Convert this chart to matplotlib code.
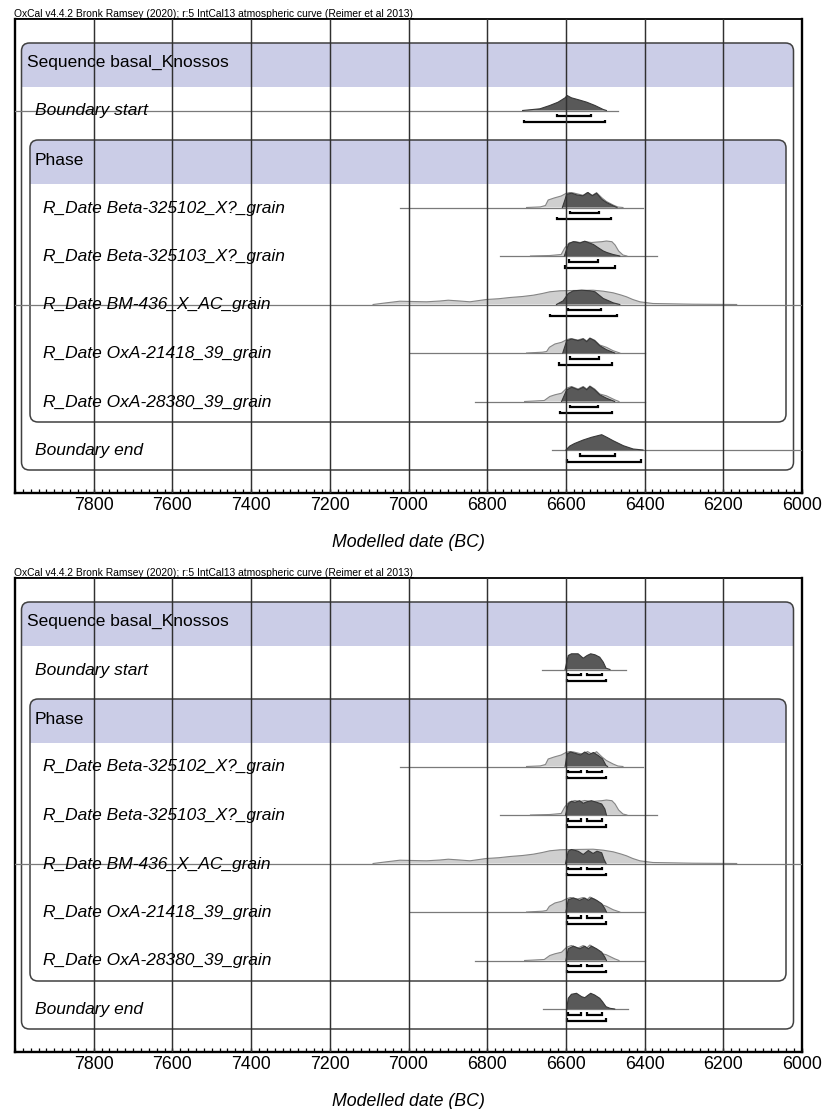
import matplotlib
matplotlib.use('Agg')
import matplotlib.pyplot as plt
import matplotlib.transforms as mtransforms
from matplotlib.patches import FancyBboxPatch, Rectangle
from matplotlib.lines import Line2D

# ---------------- data (years BC, relative heights) ----------------
title_text = "OxCal v4.4.2 Bronk Ramsey (2020); r:5 IntCal13 atmospheric curve (Reimer et al 2013)"
sequence_name = "Sequence basal_Knossos"
phase_name = "Phase"
row_labels = ["Boundary start",
              "R_Date Beta-325102_X?_grain",
              "R_Date Beta-325103_X?_grain",
              "R_Date BM-436_X_AC_grain",
              "R_Date OxA-21418_39_grain",
              "R_Date OxA-28380_39_grain",
              "Boundary end"]
xlabel_text = "Modelled date (BC)"
major_ticks = [7800, 7600, 7400, 7200, 7000, 6800, 6600, 6400, 6200, 6000]
tick_labels = ["7800", "7600", "7400", "7200", "7000", "6800", "6600", "6400", "6200", "6000"]

# unmodelled likelihoods (same in both panels)
lik_beta102 = [(6700, 0), (6665, 0.6), (6652, 2), (6645, 7.5), (6630, 9.5), (6612, 11.5), (6600, 14),
               (6590, 15), (6580, 14.5), (6570, 13.5), (6556, 12.2), (6545, 15), (6533, 12.2),
               (6522, 14.8), (6508, 9.5), (6497, 6), (6480, 2.5), (6468, 0.5), (6455, 0)]
lik_beta103 = [(6690, 0), (6640, 0.5), (6612, 1.5), (6603, 8), (6592, 13), (6577, 14.5), (6564, 13.5),
               (6552, 14.5), (6535, 13.5), (6520, 14), (6509, 14.3), (6497, 15), (6483, 14.3),
               (6475, 11), (6466, 5), (6455, 1), (6445, 0)]
lik_bm436 = [(7090, 0), (7060, 1.5), (7022, 3.3), (6990, 3), (6954, 2.7), (6920, 3.5), (6899, 4.3),
             (6870, 3.5), (6844, 2.7), (6802, 5), (6770, 5.8), (6742, 7), (6710, 8), (6683, 9.3),
             (6660, 11), (6641, 12.7), (6615, 13.7), (6580, 14), (6531, 14.3), (6505, 13.3),
             (6480, 11.7), (6460, 9.5), (6446, 7.7), (6430, 5), (6412, 2.7), (6379, 1),
             (6277, 0.3), (6166, 0)]
lik_oxa21418 = [(6700, 0), (6660, 0.8), (6649, 1.5), (6642, 5.7), (6628, 9), (6611, 10.7), (6598, 13.3),
                (6588, 14.5), (6570, 13), (6556, 14.5), (6547, 12), (6539, 15), (6527, 12.8),
                (6514, 8), (6497, 5.7), (6480, 2.3), (6463, 0)]
lik_oxa28380 = [(6705, 0), (6655, 1), (6641, 5), (6628, 6.7), (6611, 8.3), (6598, 13.3), (6586, 15),
                (6569, 12.5), (6556, 15), (6547, 12.5), (6539, 15.5), (6527, 12.5), (6514, 7.5),
                (6497, 5.7), (6476, 1.7), (6465, 0)]

# extents of the thin lines under each item
line_top = [(8000, 6468), (7022, 6404), (6768, 6369), (8000, 6000), (6997, 6400), (6831, 6400), (6636, 6000)]
line_bottom = [(6662, 6446), (7022, 6404), (6768, 6369), (8000, 6000), (6997, 6400), (6831, 6400), (6658, 6442)]

# panel 1 posteriors
post1_start = [(6710, 0), (6666, 1.7), (6641, 5), (6620, 8.3), (6602, 12.7), (6597, 15), (6586, 12.7),
               (6564, 10.3), (6547, 8.3), (6526, 5), (6505, 1), (6497, 0)]
post1_beta102 = [(6609, 0), (6603, 7), (6598, 13.3), (6585, 14.3), (6572, 12.5), (6557, 11.7),
                 (6544, 15), (6533, 11.7), (6522, 14.3), (6509, 8.3), (6497, 5), (6480, 1.7), (6470, 0)]
post1_beta103 = [(6604, 0), (6597, 8), (6592, 12.5), (6581, 14.3), (6570, 13.5), (6564, 13),
                 (6552, 14.8), (6540, 13), (6530, 11.5), (6518, 8.3), (6505, 5), (6496, 3.5),
                 (6480, 1.5), (6463, 0)]
post1_bm436 = [(6624, 0), (6607, 3.7), (6594, 11), (6581, 13.7), (6560, 14.3), (6539, 13.7),
               (6526, 12.7), (6505, 6), (6490, 3.5), (6480, 1.7), (6463, 0)]
post1_oxa21418 = [(6608, 0), (6598, 12.3), (6585, 14), (6569, 12.3), (6556, 14), (6547, 11.3),
                  (6539, 14.7), (6527, 12.3), (6514, 7.3), (6497, 3.3), (6476, 0)]
post1_oxa28380 = [(6611, 0), (6598, 11.7), (6585, 14.3), (6569, 11.7), (6556, 14.3), (6547, 11.7),
                  (6539, 15), (6527, 11.7), (6514, 6.7), (6497, 3.3), (6476, 0)]
post1_end = [(6600, 0), (6590, 4), (6578, 6.5), (6556, 10), (6535, 12.7), (6509, 15.3), (6495, 12.5),
             (6480, 9.3), (6454, 4.3), (6429, 1), (6404, 0)]

r68_top = [[(6623, 6536)], [(6590, 6515)], [(6592, 6519)], [(6594, 6512)], [(6590, 6515)],
           [(6590, 6518)], [(6564, 6475)]]
r95_top = [[(6707, 6501)], [(6622, 6486)], [(6603, 6475)], [(6641, 6470)], [(6618, 6484)],
           [(6615, 6484)], [(6597, 6408)]]

# panel 2 posteriors
post2_start = [(6602, 0), (6594, 14), (6586, 15.7), (6569, 15.7), (6556, 11.3), (6546, 14), (6537, 15.7),
               (6526, 14.7), (6514, 12.3), (6505, 7.3), (6498, 1.3), (6488, 0)]
post2_beta102 = [(6602, 0), (6597, 12.5), (6588, 14.5), (6575, 13), (6563, 11.5), (6552, 14.5),
                 (6541, 12), (6530, 14), (6518, 11), (6507, 7.7), (6498, 1), (6494, 0)]
post2_beta103 = [(6601, 0), (6594, 11), (6586, 13.7), (6577, 12.7), (6565, 14.3), (6556, 11.7),
                 (6546, 13.3), (6535, 14.3), (6522, 12.7), (6509, 11), (6501, 6), (6497, 0)]
post2_bm436 = [(6601, 0), (6594, 12.3), (6586, 14), (6569, 12.3), (6556, 9), (6543, 13), (6531, 10),
               (6521, 12.3), (6509, 10.7), (6503, 4), (6498, 0)]
post2_oxa21418 = [(6600, 0), (6594, 12.3), (6581, 14), (6565, 11.7), (6552, 14), (6543, 11.7),
                  (6535, 14), (6522, 11.7), (6509, 8.3), (6501, 3.3), (6497, 0)]
post2_oxa28380 = [(6600, 0), (6594, 11.7), (6581, 14.3), (6565, 11.7), (6552, 14.3), (6543, 11.7),
                  (6535, 14.3), (6522, 11.7), (6509, 8.3), (6501, 3.3), (6497, 0)]
post2_end = [(6598, 0), (6594, 10.7), (6586, 14.7), (6573, 15.7), (6560, 12.3), (6552, 11.3),
             (6543, 14), (6537, 15.7), (6527, 14), (6514, 10.7), (6507, 7.3), (6498, 2.3),
             (6488, 0.7), (6476, 0)]

r68_bottom = [[(6594, 6562), (6547, 6509)]] * 7
r95_bottom = [[(6598, 6498)]] * 7

# ---------------- build panel tables ----------------
liks = [None, lik_beta102, lik_beta103, lik_bm436, lik_oxa21418, lik_oxa28380, None]
panels = [
    dict(offset=0, lines=line_top, posts=[post1_start, post1_beta102, post1_beta103, post1_bm436,
                                          post1_oxa21418, post1_oxa28380, post1_end],
         r68=r68_top, r95=r95_top),
    dict(offset=559, lines=line_bottom, posts=[post2_start, post2_beta102, post2_beta103, post2_bm436,
                                               post2_oxa21418, post2_oxa28380, post2_end],
         r68=r68_bottom, r95=r95_bottom),
]
row_index = [1, 3, 4, 5, 6, 7, 8]
label_x = [35, 43, 43, 43, 43, 43, 35]

# ---------------- figure ----------------
W, H = 826, 1109
fig = plt.figure(figsize=(W / 100, H / 100), dpi=100)
pix = mtransforms.Affine2D().scale(1, -1).translate(0, H)

FONT = 'Liberation Sans'
BAND = '#cbcde7'
EDGE = '#404040'
DARK = '#595959'
DARK_E = '#383838'
LIGHT = '#cfcfcf'
LIGHT_E = '#858585'
LABEL_FS = 12.5

AX_LEFT, AX_RIGHT, AX_TOP, AX_H = 15, 802, 19, 474
ROW0, ROWSTEP = 43, 48.5


def rounded_box(ax, x0, y0, x1, y1, band_h):
    box = FancyBboxPatch((x0, y0), x1 - x0, y1 - y0, boxstyle="round,pad=0,rounding_size=8",
                         transform=pix, facecolor='none', edgecolor=EDGE, lw=1.1, zorder=2,
                         clip_on=False)
    clipbox = FancyBboxPatch((x0, y0), x1 - x0, y1 - y0, boxstyle="round,pad=0,rounding_size=8",
                             transform=pix, facecolor='none', edgecolor='none')
    band = Rectangle((x0, y0), x1 - x0, band_h, transform=pix, facecolor=BAND,
                     edgecolor='none', zorder=1, clip_on=True)
    ax.add_patch(band)
    band.set_clip_path(clipbox)
    ax.add_patch(box)


def dist(ax, base, pts, face, edge, z):
    yr = [p[0] for p in pts]
    top = [base - p[1] for p in pts]
    ax.fill_between(yr, base, top, facecolor=face, edgecolor='none', zorder=z)
    ax.plot(yr, top, color=edge, lw=0.8, zorder=z + 0.1)


def bracket(ax, y, lo, hi):
    ax.plot([lo, lo, hi, hi], [y - 2.5, y, y, y - 2.5], color='black', lw=1.6,
            solid_joinstyle='miter', solid_capstyle='butt', zorder=6)


for P in panels:
    off = P['offset']
    top_px = AX_TOP + off
    ax = fig.add_axes([AX_LEFT / W, 1 - (top_px + AX_H) / H, (AX_RIGHT - AX_LEFT) / W, AX_H / H])
    ax.set_xlim(8000, 6000)
    ax.set_ylim(AX_H, 0)
    ax.set_yticks([])
    ax.set_xticks(major_ticks)
    ax.set_xticklabels(tick_labels, fontfamily=FONT, fontsize=12.8)
    ax.set_xticks(list(range(8000, 5999, -20)), minor=True)
    ax.tick_params(axis='x', which='major', direction='in', length=3, width=1, pad=3)
    ax.tick_params(axis='x', which='minor', direction='in', length=3, width=0.9)
    for s in ['left', 'right', 'bottom']:
        ax.spines[s].set_linewidth(1.7)
    ax.spines['top'].set_linewidth(1.3)
    for g in major_ticks[:-1]:
        ax.axvline(g, color='#303030', lw=1.05, zorder=8)

    # boxes
    rounded_box(ax, 21.5, 43 + off, 793.5, 470 + off, 44)
    rounded_box(ax, 30, 140 + off, 786, 422 + off, 44)

    fig.text(27, 66.5 + off, sequence_name, transform=pix, fontfamily=FONT, fontsize=LABEL_FS,
             va='baseline', ha='left', zorder=9)
    fig.text(35, 165 + off, phase_name, transform=pix, fontfamily=FONT, fontsize=LABEL_FS,
             va='baseline', ha='left', zorder=9)

    for i in range(7):
        base = ROW0 + ROWSTEP * row_index[i]
        lo, hi = P['lines'][i]
        ax.plot([lo, hi], [base, base], color='#7a7a7a', lw=0.9, zorder=3)
        if liks[i] is not None:
            dist(ax, base, liks[i], LIGHT, LIGHT_E, 4)
        dist(ax, base, P['posts'][i], DARK, DARK_E, 5)
        for lo_, hi_ in P['r68'][i]:
            bracket(ax, base + 5.5, lo_, hi_)
        for lo_, hi_ in P['r95'][i]:
            bracket(ax, base + 11.5, lo_, hi_)
        fig.text(label_x[i], AX_TOP + off + base + 5, row_labels[i], transform=pix,
                 fontfamily=FONT, fontsize=LABEL_FS, fontstyle='italic', va='baseline', ha='left')

    fig.text((AX_LEFT + AX_RIGHT) / 2, 547 + off, xlabel_text, transform=pix, fontfamily=FONT,
             fontsize=12.8, fontstyle='italic', va='baseline', ha='center')

    t = fig.text(14, 17 + off, title_text, transform=pix, fontfamily=FONT, fontsize=7,
                 va='baseline', ha='left')
    P['title'] = t

# fit title width and underline it
fig.canvas.draw()
r = fig.canvas.get_renderer()
for P in panels:
    t = P['title']
    w = t.get_window_extent(r).width
    t.set_fontsize(7 * 400 / w)
fig.canvas.draw()
for P in panels:
    t = P['title']
    bb = t.get_window_extent(r)
    yline = H - (18.2 + P['offset'])
    fig.add_artist(Line2D([bb.x0, bb.x1], [yline, yline], transform=mtransforms.IdentityTransform(),
                          color='black', lw=0.7))

fig.savefig('out.png', dpi=100)
